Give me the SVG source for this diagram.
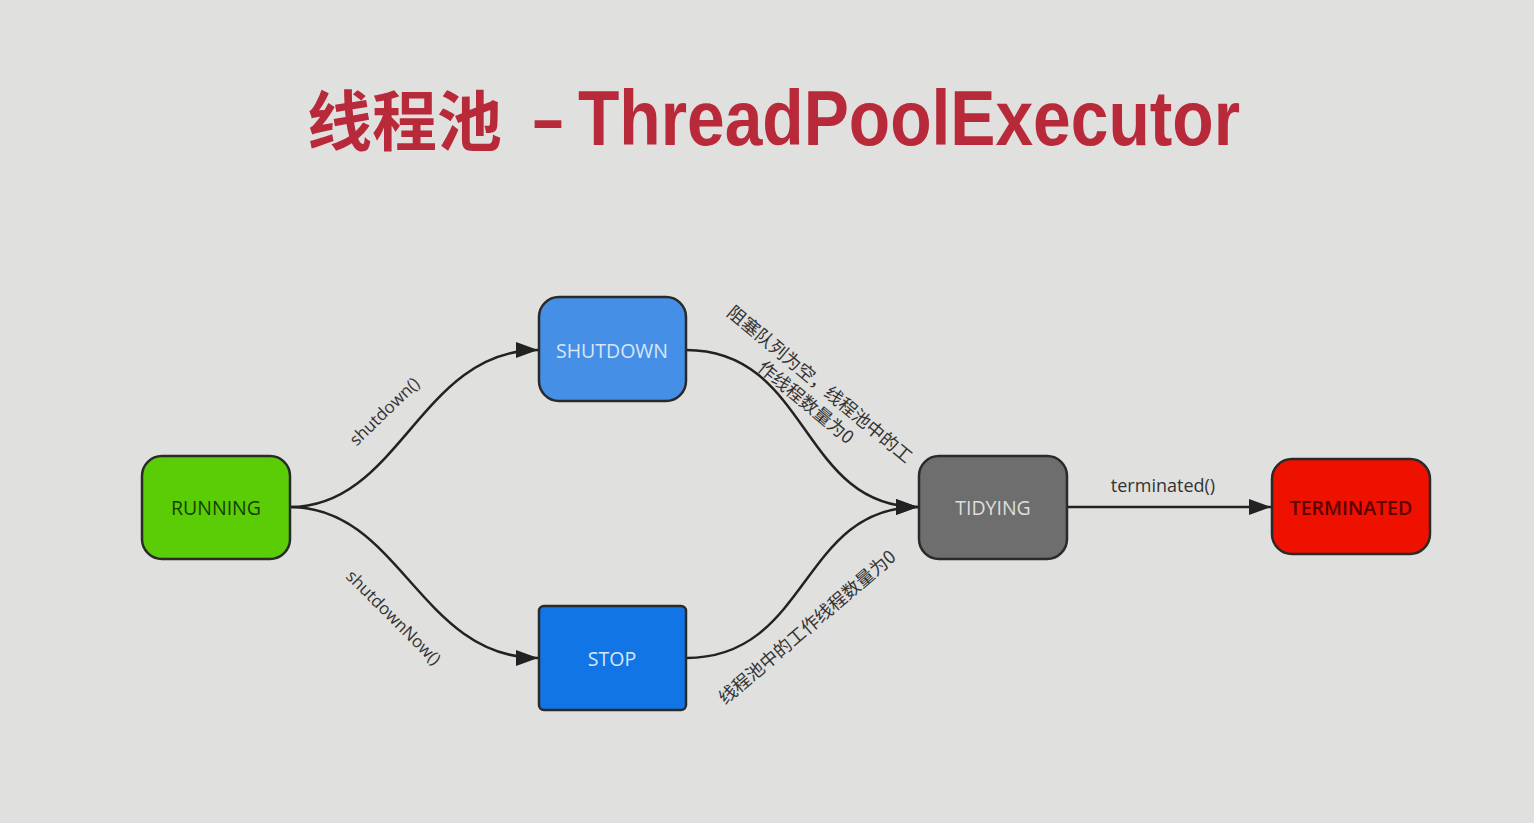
<svg xmlns="http://www.w3.org/2000/svg" width="1534" height="823" viewBox="0 0 1534 823">
<defs>
<style>
.node rect{stroke:#2a2a2a;stroke-width:2.5}
.nl{font-family:"Open Sans","Noto Sans",sans-serif;font-size:19.5px;text-anchor:middle;dominant-baseline:central}
.el{font-family:"Open Sans","Noto Sans","Noto Sans CJK SC",sans-serif;font-size:17px;fill:#333;text-anchor:middle;dominant-baseline:central}
.cj{font-family:"Noto Sans CJK SC","Noto Sans",sans-serif;font-size:18px;fill:#333;text-anchor:middle;dominant-baseline:central}
.edge{fill:none;stroke:#222;stroke-width:2.5;marker-end:url(#arr)}
</style>
<marker id="arr" markerUnits="userSpaceOnUse" markerWidth="24" markerHeight="18" refX="22" refY="8" orient="auto">
<path d="M0,0 L22,8 L0,16 Z" fill="#222"/>
</marker>
</defs>
<rect width="1534" height="823" fill="#e0e0df"/>
<g id="title" fill="#b8293a" font-weight="bold">
<text x="307" y="145" font-family="Noto Sans CJK SC,sans-serif" font-size="65">线程池</text>
<text x="533" y="145" font-family="Liberation Sans,Arial,sans-serif" font-size="78" textLength="30" lengthAdjust="spacingAndGlyphs">–</text>
<text x="578" y="145" font-family="Liberation Sans,Arial,sans-serif" font-size="78" textLength="662" lengthAdjust="spacingAndGlyphs">ThreadPoolExecutor</text>
</g>
<g id="connectors">
<path class="edge" d="M290,507 C400,507 420,350 538,350"/>
<path class="edge" d="M290,507 C400,507 420,658 538,658"/>
<path class="edge" d="M686,350 C810,350 800,507 918,507"/>
<path class="edge" d="M686,658 C810,658 800,507 918,507"/>
<path class="edge" d="M1067,507 L1271,507"/>
<text class="el" transform="translate(384,411) rotate(-44)">shutdown()</text>
<text class="el" transform="translate(394,617) rotate(45)">shutdownNow()</text>
<text class="cj" transform="translate(821,383) rotate(39.7)">阻塞队列为空，线程池中的工</text>
<text class="cj" transform="translate(807,401) rotate(39.7)">作线程数量为0</text>
<text class="cj" transform="translate(806,626) rotate(-40.4)">线程池中的工作线程数量为0</text>
<text class="el" x="1163" y="485" style="font-size:18px">terminated()</text>
</g>
<g id="running" class="node">
<rect x="142" y="456" width="148" height="103" rx="20" fill="#5acd06"/>
<text class="nl" x="216" y="507" fill="#173f00">RUNNING</text>
</g>
<g id="shutdown" class="node">
<rect x="539" y="297" width="147" height="104" rx="20" fill="#4590e6"/>
<text class="nl" x="612" y="350" fill="#d8e6f6">SHUTDOWN</text>
</g>
<g id="stop" class="node">
<rect x="539" y="606" width="147" height="104" rx="5" fill="#1275e6"/>
<text class="nl" x="612" y="658" fill="#d8e6f6">STOP</text>
</g>
<g id="tidying" class="node">
<rect x="919" y="456" width="148" height="103" rx="20" fill="#6e6e6e"/>
<text class="nl" x="993" y="507" fill="#dedede">TIDYING</text>
</g>
<g id="terminated" class="node">
<rect x="1272" y="459" width="158" height="95" rx="20" fill="#ee1100"/>
<text class="nl" x="1351" y="507" fill="#5a0000" font-weight="600">TERMINATED</text>
</g>
</svg>
